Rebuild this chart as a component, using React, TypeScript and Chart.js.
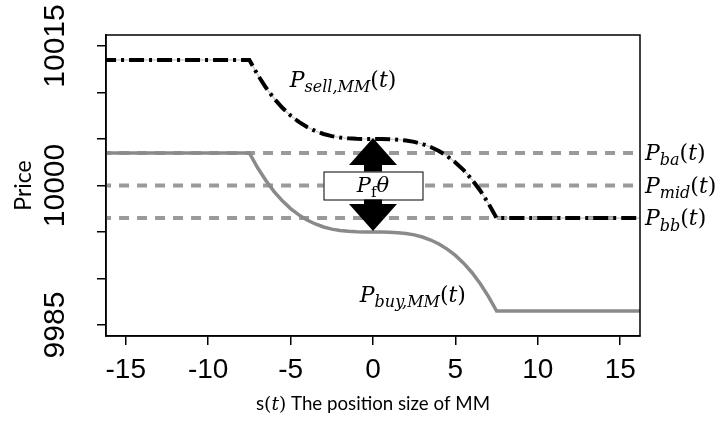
import React, { useEffect, useRef } from "react";
import { Chart, registerables } from "chart.js";

Chart.register(...registerables);

// ---- data ----
const positionSizes = [
  -16.5, -7.5, -7, -6.5, -6, -5.5, -5, -4.5, -4, -3.5, -3, -2.5, -2, -1.5, -1, -0.5,
  0, 0.5, 1, 1.5, 2, 2.5, 3, 3.5, 4, 4.5, 5, 5.5, 6, 6.5, 7, 7.5, 16.5,
];
const sellQuote = [
  10013.5, 10013.5, 10011.91, 10010.53, 10009.35, 10008.35, 10007.52, 10006.84, 10006.29,
  10005.86, 10005.54, 10005.31, 10005.16, 10005.07, 10005.02, 10005.0, 10005.0, 10005.0,
  10004.98, 10004.93, 10004.84, 10004.69, 10004.46, 10004.14, 10003.71, 10003.16, 10002.48,
  10001.65, 10000.65, 9999.47, 9998.09, 9996.5, 9996.5,
];
const buyQuote = [
  10003.5, 10003.5, 10001.91, 10000.53, 9999.35, 9998.35, 9997.52, 9996.84, 9996.29,
  9995.86, 9995.54, 9995.31, 9995.16, 9995.07, 9995.02, 9995.0, 9995.0, 9995.0,
  9994.98, 9994.93, 9994.84, 9994.69, 9994.46, 9994.14, 9993.71, 9993.16, 9992.48,
  9991.65, 9990.65, 9989.47, 9988.09, 9986.5, 9986.5,
];
const levelNames = ["ba", "mid", "bb"];
const levelValues = [10003.5, 10000, 9996.5];
const yLabelValues = [9985, 10000, 10015];
const xRange = [-16.2, 16.2];
const yRange = [9983.82, 10016.18];

const SERIF = '"DejaVu Serif"';
const SANS = "Lato";

type Run = { t: string; it?: boolean; sub?: boolean; font?: string; size?: number };

function runFont(r: Run, base: number) {
  const size = r.size ?? (r.sub ? Math.round(base * 0.72) : base);
  return `${r.it ? "italic " : ""}${size}px ${r.font ?? SERIF}`;
}
function measureRuns(ctx: CanvasRenderingContext2D, runs: Run[], base: number) {
  let w = 0;
  for (const r of runs) {
    ctx.font = runFont(r, base);
    w += ctx.measureText(r.t).width;
  }
  return w;
}
function drawRuns(ctx: CanvasRenderingContext2D, x: number, y: number, runs: Run[], base: number) {
  ctx.textAlign = "left";
  ctx.textBaseline = "alphabetic";
  for (const r of runs) {
    ctx.font = runFont(r, base);
    ctx.fillText(r.t, x, y + (r.sub ? base * 0.25 : 0));
    x += ctx.measureText(r.t).width;
  }
  return x;
}
const tRuns: Run[] = [{ t: "(" }, { t: "t", it: true }, { t: ")" }];

const annotations = {
  id: "annotations",
  afterDraw(chart: any) {
    const { ctx, chartArea, scales } = chart;
    const xs = scales.x;
    const ys = scales.y;
    ctx.save();
    ctx.fillStyle = "#000";

    // frame
    ctx.strokeStyle = "#000";
    ctx.lineWidth = 1.5;
    ctx.strokeRect(chartArea.left, chartArea.top, chartArea.right - chartArea.left, chartArea.bottom - chartArea.top);

    // double arrow between the quotes at s = 0
    const i0 = positionSizes.indexOf(0);
    const ax = xs.getPixelForValue(0);
    const yTop = ys.getPixelForValue(sellQuote[i0]) - 1;
    const yBot = ys.getPixelForValue(buyQuote[i0]) - 1;
    const hh = 27, hw = 24, sw = 9;
    ctx.beginPath();
    ctx.moveTo(ax, yTop);
    ctx.lineTo(ax + hw, yTop + hh);
    ctx.lineTo(ax + sw, yTop + hh);
    ctx.lineTo(ax + sw, yBot - hh);
    ctx.lineTo(ax + hw, yBot - hh);
    ctx.lineTo(ax, yBot);
    ctx.lineTo(ax - hw, yBot - hh);
    ctx.lineTo(ax - sw, yBot - hh);
    ctx.lineTo(ax - sw, yTop + hh);
    ctx.lineTo(ax - hw, yTop + hh);
    ctx.closePath();
    ctx.fill();

    // box with P_f theta
    const by = ys.getPixelForValue(levelValues[1]);
    const bw = 99, bh = 28;
    ctx.fillStyle = "#fff";
    ctx.fillRect(ax - bw / 2, by - bh / 2, bw, bh);
    ctx.lineWidth = 1;
    ctx.strokeRect(ax - bw / 2 + 0.5, by - bh / 2 + 0.5, bw, bh);
    ctx.fillStyle = "#000";
    const feeRuns: Run[] = [{ t: "P", it: true }, { t: "f", sub: true }, { t: "θ", it: true }];
    const fw = measureRuns(ctx, feeRuns, 21);
    drawRuns(ctx, ax - fw / 2, by + 6, feeRuns, 21);

    // curve labels
    drawRuns(ctx, xs.getPixelForValue(-5.05), ys.getPixelForValue(10010.6),
      [{ t: "P", it: true }, { t: "sell,MM", it: true, sub: true }, ...tRuns], 22);
    drawRuns(ctx, xs.getPixelForValue(-0.8), ys.getPixelForValue(9987.5),
      [{ t: "P", it: true }, { t: "buy,MM", it: true, sub: true }, ...tRuns], 22);

    // level labels
    levelNames.forEach((name, k) => {
      const y = ys.getPixelForValue(levelValues[k]) + 7;
      drawRuns(ctx, chartArea.right + 5, y, [{ t: "P", it: true }, { t: name, it: true, sub: true }, ...tRuns], 22);
    });

    // y axis title
    ctx.save();
    ctx.translate(24, ys.getPixelForValue(10000));
    ctx.rotate(-Math.PI / 2);
    ctx.font = `23px ${SANS}`;
    ctx.textAlign = "center";
    ctx.textBaseline = "middle";
    ctx.fillText("Price", 0, 0);
    ctx.restore();

    // x axis title
    const titleRuns: Run[] = [
      { t: "s", font: SANS, size: 19 },
      { t: "(", size: 19 },
      { t: "t", it: true, size: 19 },
      { t: ")", size: 19 },
      { t: " The position size of MM", font: SANS, size: 19 },
    ];
    const tw = measureRuns(ctx, titleRuns, 19);
    const targetW = 234;
    ctx.save();
    ctx.translate(xs.getPixelForValue(0) - targetW / 2, 410);
    ctx.scale(targetW / tw, 1);
    drawRuns(ctx, 0, 0, titleRuns, 19);
    ctx.restore();

    ctx.restore();
  },
};

export default function App() {
  const ref = useRef<HTMLCanvasElement | null>(null);
  useEffect(() => {
    document.body.style.margin = "0";
    if (!ref.current) return;
    const pts = (ys: number[]) => positionSizes.map((x, i) => ({ x, y: ys[i] }));
    const flat = (v: number) => [
      { x: positionSizes[0], y: v },
      { x: positionSizes[positionSizes.length - 1], y: v },
    ];
    const chart = new Chart(ref.current, {
      type: "line",
      data: {
        datasets: [
          {
            data: pts(sellQuote),
            borderColor: "#000",
            borderWidth: 4,
            borderDash: [15, 5, 3, 5],
            pointRadius: 0,
            order: 0,
          },
          {
            data: pts(sellQuote),
            borderColor: "#c4c4c4",
            borderWidth: 1.2,
            pointRadius: 0,
            order: 1,
          },
          {
            data: pts(buyQuote),
            borderColor: "#8a8a8a",
            borderWidth: 3.5,
            pointRadius: 0,
            order: 2,
          },
          ...levelValues.map((v) => ({
            data: flat(v),
            borderColor: "#9a9a9a",
            borderWidth: 4,
            borderDash: [10, 8],
            pointRadius: 0,
            order: 3,
          })),
        ],
      },
      options: {
        responsive: false,
        animation: false,
        devicePixelRatio: 1,
        layout: { padding: { top: 35, right: 79, left: 0, bottom: 0 } },
        plugins: { legend: { display: false }, tooltip: { enabled: false } },
        elements: { line: { tension: 0, borderCapStyle: "butt" } },
        scales: {
          x: {
            type: "linear",
            min: xRange[0],
            max: xRange[1],
            grid: { drawOnChartArea: false, drawTicks: true, tickLength: 9, color: "#000", lineWidth: 1.5 },
            border: { display: true, color: "#000", width: 1.5 },
            ticks: {
              stepSize: 5,
              includeBounds: false,
              autoSkip: false,
              maxRotation: 0,
              color: "#000",
              padding: 8,
              font: { family: "Liberation Sans", size: 28 },
            },
            afterFit: (s: any) => {
              s.height = 86;
            },
          },
          y: {
            type: "linear",
            min: yRange[0],
            max: yRange[1],
            grid: { drawOnChartArea: false, drawTicks: true, tickLength: 9, color: "#000", lineWidth: 1.5 },
            border: { display: true, color: "#000", width: 1.5 },
            ticks: {
              stepSize: 5,
              includeBounds: false,
              autoSkip: false,
              minRotation: 90,
              maxRotation: 90,
              crossAlign: "center",
              padding: 0,
              color: "#000",
              font: { family: "Liberation Sans", size: 30 },
              callback: (v: any) => (yLabelValues.includes(Number(v)) ? String(v) : ""),
            },
            afterFit: (s: any) => {
              s.width = 106;
            },
          },
        },
      },
      plugins: [annotations],
    } as any);
    return () => chart.destroy();
  }, []);
  return <canvas ref={ref} width={719} height={422} style={{ display: "block" }} />;
}
